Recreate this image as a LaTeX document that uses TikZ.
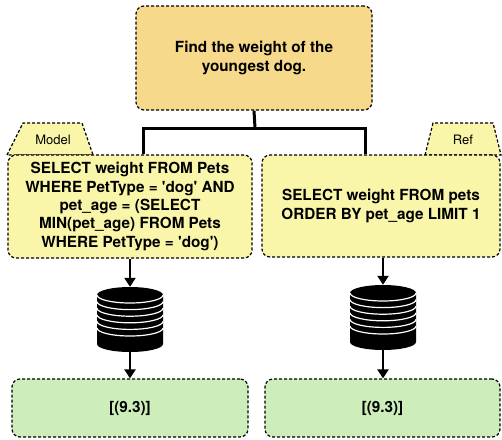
\documentclass[tikz,border=0pt]{standalone}
\usepackage{fontspec}
\setmainfont{TeX Gyre Heros}
\usetikzlibrary{arrows.meta}
\definecolor{topfill}{HTML}{F6D98A}
\definecolor{sqlfill}{HTML}{FAF6A9}
\definecolor{resfill}{HTML}{CDEDBA}
\newcommand{\sq}{\textquotesingle}
\tikzset{
  dbox/.style={draw=black, line width=1.2pt, dash pattern=on 3pt off 2pt, rounded corners=8pt, align=center, inner sep=0pt},
  sqltext/.style={font=\fontsize{15.3}{18.3}\selectfont\bfseries},
  tablabel/.style={font=\fontsize{13}{15}\selectfont, inner sep=0pt},
  link/.style={line width=3pt},
  flow/.style={line width=2.6pt, -{Triangle[length=9pt,width=11pt]}},
}
\newcommand{\dbstack}[3]{% name, center x, top y
  \fill[black] (#2-33,#3+8) -- (#2-33,#3+57) arc[start angle=180,end angle=0,x radius=33,y radius=8] -- (#2+33,#3+8) -- cycle;
  \fill[black] (#2,#3+8) ellipse[x radius=33,y radius=8];
  \foreach \k in {0,1,2,3,4,5}{
    \draw[white,line width=1.2pt] (#2-33,#3+8+\k*6.6) arc[start angle=180,end angle=0,x radius=33,y radius=8];
  }
  \node[minimum width=66pt,minimum height=65pt,inner sep=0pt] (#1) at (#2,#3+32.5) {};
}
\begin{document}
\begin{tikzpicture}[x=1pt,y=-1pt]
\useasboundingbox (0,0) rectangle (502,439);

% question
\node[dbox, fill=topfill, minimum width=236pt, minimum height=104pt, sqltext] (q) at (254,58) {Find the weight of the\\youngest dog.};

% tabs
\draw[line width=1.2pt, dash pattern=on 3pt off 2pt, fill=sqlfill] (7,155) -- (23,123) -- (82,123) -- (93,155) -- cycle;
\node[tablabel] (modeltab) at (53,140) {Model};
\draw[line width=1.2pt, dash pattern=on 3pt off 2pt, fill=sqlfill] (425,155) -- (433,123) -- (493,123) -- (501,155) -- cycle;
\node[tablabel] (reftab) at (463,140) {Ref};

% sql boxes
\node[dbox, fill=sqlfill, minimum width=244pt, minimum height=103pt, sqltext] (model) at (130,206.5) {SELECT weight FROM Pets\\WHERE PetType = \sq dog\sq{} AND\\pet\_age = (SELECT\\MIN(pet\_age) FROM Pets\\WHERE PetType = \sq dog\sq)};
\node[dbox, fill=sqlfill, minimum width=238pt, minimum height=102pt, sqltext] (ref) at (381,206) {SELECT weight FROM pets\\ORDER BY pet\_age LIMIT 1};

% tree connector
\coordinate (split) at (255,128);
\draw[link] (q.south) -- (split);
\draw[link] (split) -| ([xshift=13pt]model.north);
\draw[link] (split) -| ([xshift=-16pt]ref.north);

% databases
\dbstack{db1}{130}{287}
\dbstack{db2}{383}{285}

% results
\node[dbox, fill=resfill, minimum width=236pt, minimum height=58pt, sqltext] (res1) at (130,408) {[(9.3)]};
\node[dbox, fill=resfill, minimum width=235pt, minimum height=58pt, sqltext] (res2) at (382.5,408) {[(9.3)]};

% arrows
\draw[flow] (model.south) -- (db1.north);
\draw[flow] (db1.south) -- (res1.north);
\draw[flow] ([xshift=2pt]ref.south) -- (db2.north);
\draw[flow] (db2.south) -- ([xshift=0.5pt]res2.north);
\end{tikzpicture}
\end{document}
